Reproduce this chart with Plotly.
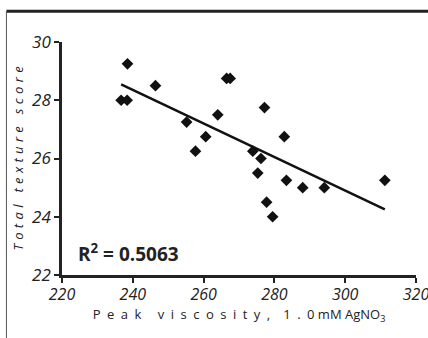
import numpy as np
import plotly.graph_objects as go

peak_viscosity = [236.7, 238.4, 238.5, 246.4, 255.2, 257.7, 260.6, 264.0, 266.5, 267.5,
                  273.9, 276.2, 275.3, 277.2, 277.8, 279.5, 282.8, 283.4, 288.0, 294.1, 311.2]
texture_score = [28.0, 28.0, 29.25, 28.5, 27.25, 26.25, 26.75, 27.5, 28.75, 28.75,
                 26.25, 26.0, 25.5, 27.75, 24.5, 24.0, 26.75, 25.25, 25.0, 25.0, 25.25]
x_ticks = [220, 240, 260, 280, 300, 320]
y_ticks = [22, 24, 26, 28, 30]
r2_label = "R<sup>2</sup> = 0.5063"

x = np.array(peak_viscosity)
y = np.array(texture_score)
slope, intercept = np.polyfit(x, y, 1)
fit_x = np.array([x.min(), x.max()])
fit_y = slope * fit_x + intercept

font = "'Open Sans', sans-serif"

def spaced(s, sep="\u2002"):
    return sep.join(s)

x_title = spaced("Peak viscosity,") + "\u2003" + spaced("1.0") + " mM AgNO<sub>3</sub>"
y_title = "<i>" + spaced("Total texture score", "\u2004") + "</i>"

fig = go.Figure()
fig.add_trace(go.Scatter(x=fit_x, y=fit_y, mode="lines",
                         line=dict(color="#111", width=2.5), hoverinfo="skip"))
fig.add_trace(go.Scatter(x=peak_viscosity, y=texture_score, mode="markers",
                         marker=dict(symbol="diamond", size=9, color="#111")))

fig.update_layout(
    width=428, height=338,
    margin=dict(l=62, r=12, t=42, b=63),
    paper_bgcolor="white", plot_bgcolor="white",
    showlegend=False,
    font=dict(family=font, color="#222"),
    xaxis=dict(range=[220, 320], tickvals=x_ticks, ticktext=[f"<i>{v}</i>" for v in x_ticks],
               ticks="outside", ticklen=5, automargin=False, ticklabelstandoff=-2,
               tickwidth=2, tickcolor="#222", showline=True, linecolor="#222",
               linewidth=2.5, showgrid=False, zeroline=False, ticklabeloverflow="allow",
               tickfont=dict(size=16, family=font, color="#222"),
               title=dict(text=x_title, font=dict(size=13, family=font), standoff=0)),
    yaxis=dict(range=[22, 30], tickvals=y_ticks, ticktext=[f"<i>{v}</i>" for v in y_ticks],
               ticks="outside", ticklen=5, automargin=False,
               tickwidth=2, tickcolor="#222", showline=True, linecolor="#222",
               linewidth=2.5, showgrid=False, zeroline=False,
               tickfont=dict(size=17, family=font, color="#222"),
               title=dict(text=y_title,
                          font=dict(size=13, family=font), standoff=6)),
    annotations=[dict(text=r2_label, xref="paper", yref="paper", x=0.04, y=0.095,
                      xanchor="left", yanchor="middle", showarrow=False,
                      font=dict(size=19, family=font, weight="bold", color="#222"))],
    shapes=[
        dict(type="line", xref="paper", yref="paper", x0=-0.157, x1=1.1, y0=1.132, y1=1.132,
             line=dict(color="#222", width=3), layer="above"),
        dict(type="line", xref="paper", yref="paper", x0=-0.157, x1=-0.157, y0=1.132, y1=-0.3,
             line=dict(color="#555", width=1), layer="above"),
    ],
)

fig.write_html("out.html", config={"displayModeBar": False},
               post_script="document.body.style.margin='0';document.body.style.overflow='hidden';")
